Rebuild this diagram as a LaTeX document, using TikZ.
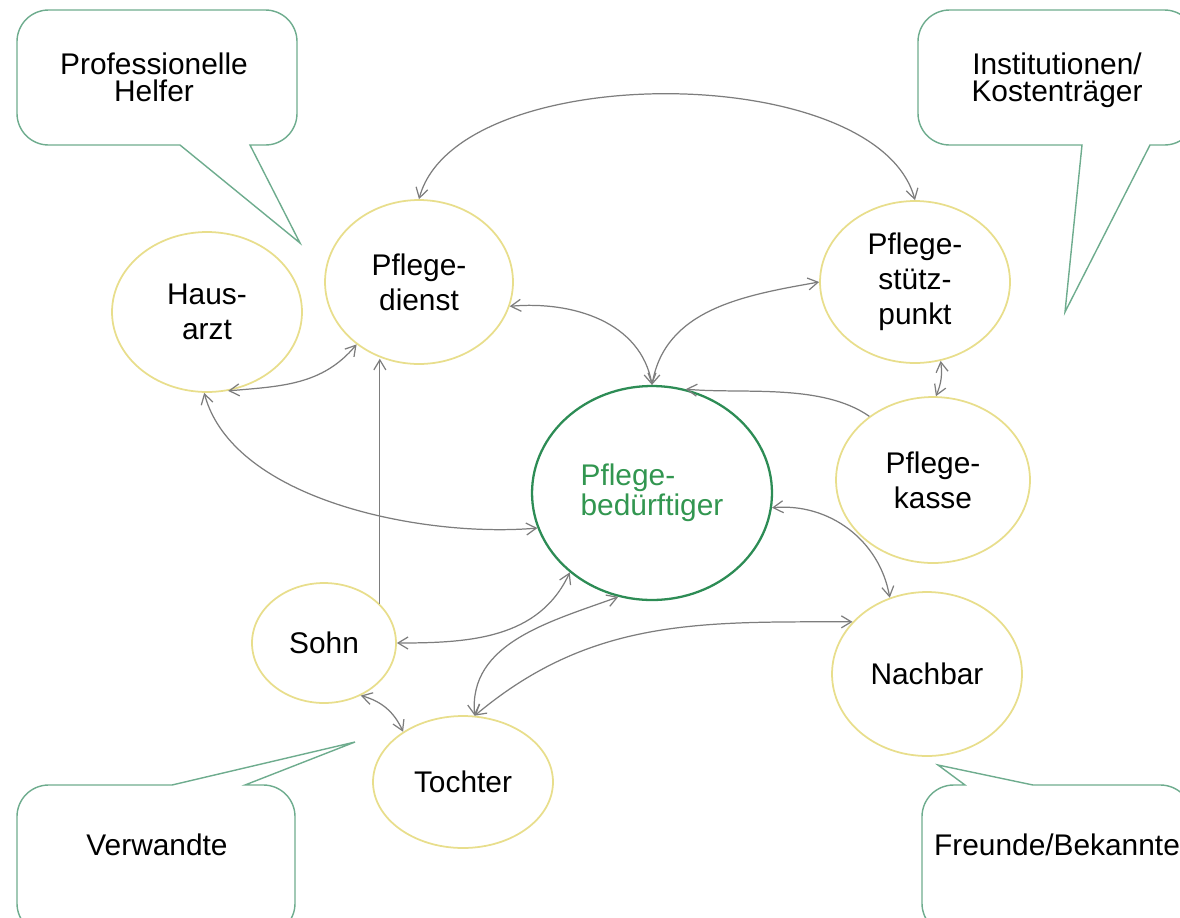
\documentclass[tikz,border=0pt]{standalone}
\usepackage{fontspec}
\setmainfont{Liberation Sans}
\usetikzlibrary{shapes.geometric}
\usetikzlibrary{arrows.meta}
\definecolor{gelb}{RGB}{232,222,140}
\definecolor{gruen}{RGB}{45,140,85}
\definecolor{gruentext}{RGB}{50,150,80}
\definecolor{pfeil}{RGB}{125,125,125}
\definecolor{blase}{RGB}{110,172,142}

\begin{document}
\begin{tikzpicture}[x=0.02cm,y=-0.02cm,font=\fontsize{17}{20}\selectfont,
  pers/.style={ellipse,draw=gelb,line width=1pt,inner sep=0pt,align=center},
  zentral/.style={ellipse,draw=gruen,line width=1.3pt,inner sep=0pt,align=left,text=gruentext,font=\fontsize{17}{17}\selectfont},
  verb/.style={draw=pfeil,line width=0.7pt,{Straight Barb[length=2mm,width=2.4mm]}-{Straight Barb[length=2mm,width=2.4mm]}},
  verbeins/.style={draw=pfeil,line width=0.7pt,-{Straight Barb[length=2mm,width=2.4mm]}},
  sprech/.style={draw=blase,line width=0.8pt},
  sprechtext/.style={align=center,font=\fontsize{17}{15.5}\selectfont}]
 \useasboundingbox (0,0) rectangle (1180,917);
 \draw[sprech,rounded corners=18] (17,80) -- (17,10) -- (297,10) -- (297,145) [sharp corners] -- (250,145) -- (300,243) -- (180,145) [rounded corners=18] -- (17,145) -- cycle;
 \draw[sprech,rounded corners=18] (918,80) -- (918,10) -- (1196,10) -- (1196,145) [sharp corners] -- (1150,145) -- (1065,312) -- (1082,145) [rounded corners=18] -- (918,145) -- cycle;
 \draw[sprech,rounded corners=18] (17,860) -- (17,785) [sharp corners] -- (172,785) -- (355,742) -- (245,785) [rounded corners=18] -- (295,785) -- (295,935) -- (17,935) -- cycle;
 \draw[sprech,rounded corners=18] (922,860) -- (922,785) [sharp corners] -- (965,785) -- (938,765) -- (1033,785) [rounded corners=18] -- (1192,785) -- (1192,935) -- (922,935) -- cycle;
 \node[sprechtext] (profi) at (154,77) {Professionelle\\Helfer};
 \node[sprechtext] (inst) at (1057,80) {Institutionen/\\Kostenträger};
 \node[sprechtext] (verw) at (157,845) {Verwandte};
 \node[sprechtext] (freunde) at (1057,845) {Freunde/Bekannte};
 \node[pers,minimum width=3.8cm,minimum height=3.2cm] (arzt) at (207,312) {Haus-\\arzt};
 \node[pers,minimum width=3.76cm,minimum height=3.28cm] (dienst) at (419,282) {Pflege-\\dienst};
 \node[pers,minimum width=3.8cm,minimum height=3.24cm] (stuetz) at (915,282) {Pflege-\\stütz-\\punkt};
 \node[pers,minimum width=3.88cm,minimum height=3.32cm] (kasse) at (933,480) {Pflege-\\kasse};
 \node[zentral,minimum width=4.8cm,minimum height=4.28cm] (pb) at (652,493) {Pflege-\\bedürftiger};
 \node[pers,minimum width=2.88cm,minimum height=2.4cm] (sohn) at (324,643) {Sohn};
 \node[pers,minimum width=3.6cm,minimum height=2.64cm] (tochter) at (463,782) {Tochter};
 \node[pers,minimum width=3.8cm,minimum height=3.28cm] (nachbar) at (927,674) {Nachbar};
 \draw[verb] (dienst.north) to[out=75,in=105,looseness=0.75] (stuetz.north);
 \draw[verb] (dienst.-15) to[out=5,in=100] (pb.north);
 \draw[verb] (stuetz.180) to[out=190,in=80] (pb.north);
 \draw[verbeins] (kasse.135) to[out=145,in=-5,looseness=0.8] (pb.72);
 \draw[verb] (stuetz.-72) to[bend left=15] (kasse.88);
 \draw[verb] (arzt.-75) to[out=5,in=-130] (dienst.-135);
 \draw[verb] (arzt.-92) to[out=-75,in=185,looseness=0.8] (pb.197);
 \draw[verbeins] (sohn.35) -- (sohn.35 |- dienst.-115);
 \draw[verb] (sohn.east) to[out=0,in=-115] (pb.-136);
 \draw[verb] (tochter.80) to[out=95,in=200] (pb.-108);
 \draw[verb] (tochter.80) to[out=40,in=180] (nachbar.145);
 \draw[verb] (pb.-7) to[out=5,in=100] (nachbar.116);
 \draw[verb] (sohn.-55) to[bend left=25] (tochter.140);
\end{tikzpicture}
\end{document}
